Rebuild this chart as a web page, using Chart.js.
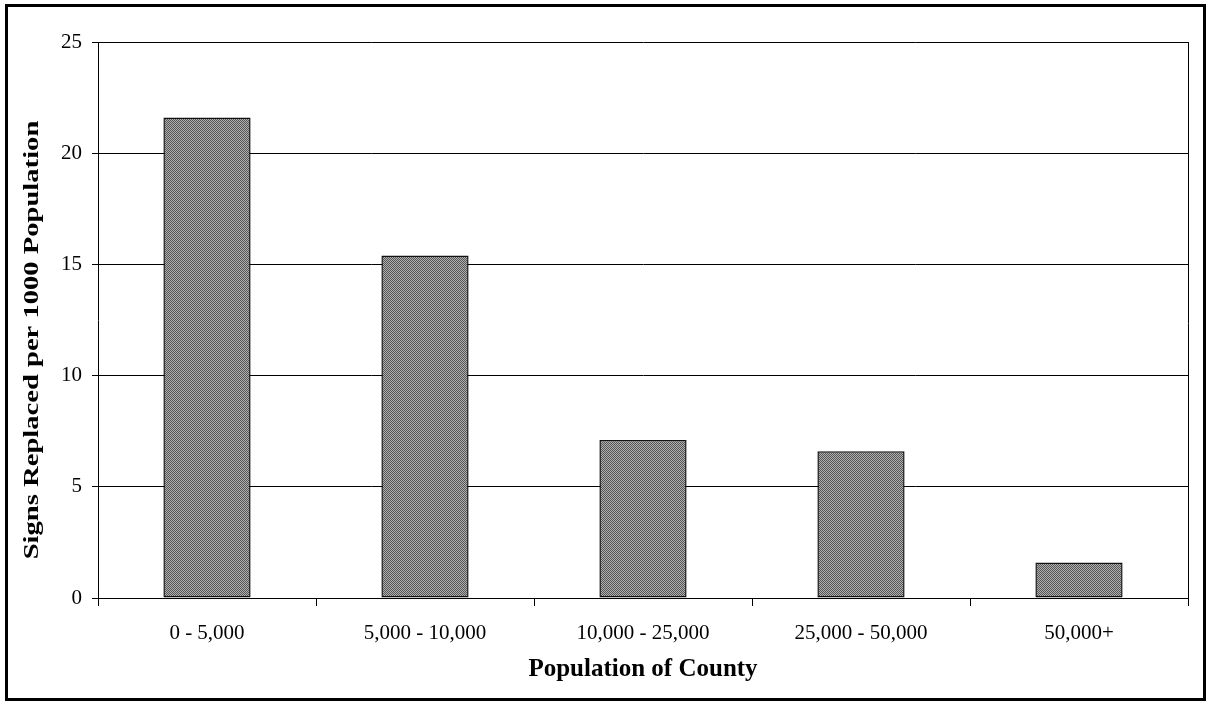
<!DOCTYPE html>
<html><head><meta charset="utf-8">
<script src="https://cdn.jsdelivr.net/npm/chart.js@4/dist/chart.umd.min.js"></script>
<style>html,body{margin:0;padding:0;background:#fff;}#wrap{position:relative;width:1209px;height:704px;}</style>
</head><body><div id="wrap"><canvas id="c" width="1209" height="704"></canvas></div>
<script>
const categories = ["0 - 5,000", "5,000 - 10,000", "10,000 - 25,000", "25,000 - 50,000", "50,000+"];
const signsReplaced = [21.6, 15.4, 7.1, 6.6, 1.6];
const yTicks = [0, 5, 10, 15, 20, 25];
const xTitle = "Population of County";
const yTitle = "Signs Replaced per 1000 Population";
const FONT = "'Liberation Serif','Times New Roman',serif";

function makePattern(){
  const p = document.createElement('canvas'); p.width = 2; p.height = 2;
  const g = p.getContext('2d');
  g.fillStyle = '#b0b0b0'; g.fillRect(0,0,2,2);
  g.fillStyle = '#555'; g.fillRect(0,0,1,1); g.fillRect(1,1,1,1);
  return document.getElementById('c').getContext('2d').createPattern(p,'repeat');
}

const frame = {
  id: 'frame',
  afterDraw(chart){
    const ctx = chart.ctx, a = chart.chartArea;
    ctx.save();
    ctx.strokeStyle = '#000'; ctx.lineWidth = 1;
    ctx.beginPath(); ctx.moveTo(a.right+0.5, a.top); ctx.lineTo(a.right+0.5, a.bottom+7); ctx.stroke();
    ctx.lineWidth = 3;
    ctx.strokeRect(6.5, 5.5, 1198, 694);
    // y-axis title (stretched along its length like the reference)
    ctx.translate(38, 340);
    ctx.rotate(-Math.PI/2);
    ctx.scale(1.3, 1);
    ctx.fillStyle = '#000';
    ctx.font = "bold 22px " + FONT;
    ctx.textAlign = 'center'; ctx.textBaseline = 'alphabetic';
    ctx.fillText(yTitle, 0, 0);
    ctx.restore();
  }
};

Chart.defaults.font.family = FONT;
Chart.defaults.color = '#000';

new Chart(document.getElementById('c'), {
  type: 'bar',
  data: { labels: categories, datasets: [{ data: signsReplaced, backgroundColor: makePattern(), borderColor: '#111', borderWidth: 1.5, borderSkipped: false, barPercentage: 0.4, categoryPercentage: 1 }] },
  options: {
    responsive: false, animation: false,
    layout: { padding: { left: 0, top: 42, right: 21, bottom: 0 } },
    plugins: { legend: { display: false }, tooltip: { enabled: false } },
    scales: {
      x: {
        afterFit(s){ s.height = 106; },
        grid: { offset: true, drawOnChartArea: false, drawTicks: true, tickLength: 8, color: '#000', lineWidth: 1 },
        border: { color: '#000', width: 1 },
        ticks: { font: { size: 21 }, padding: 15, color: '#000' },
        title: { display: true, text: xTitle, font: { size: 25, weight: 'bold' }, padding: { top: 0, bottom: 19 }, color: '#000' }
      },
      y: {
        min: 0, max: 25,
        afterFit(s){ s.width = 98; },
        afterBuildTicks(s){ s.ticks = yTicks.map(v => ({ value: v })); },
        grid: { color: '#000', lineWidth: 1, tickLength: 6 },
        border: { color: '#000', width: 1 },
        ticks: { font: { size: 21 }, padding: 10, color: '#000' },
        title: { display: false }
      }
    }
  },
  plugins: [frame]
});
</script></body></html>
